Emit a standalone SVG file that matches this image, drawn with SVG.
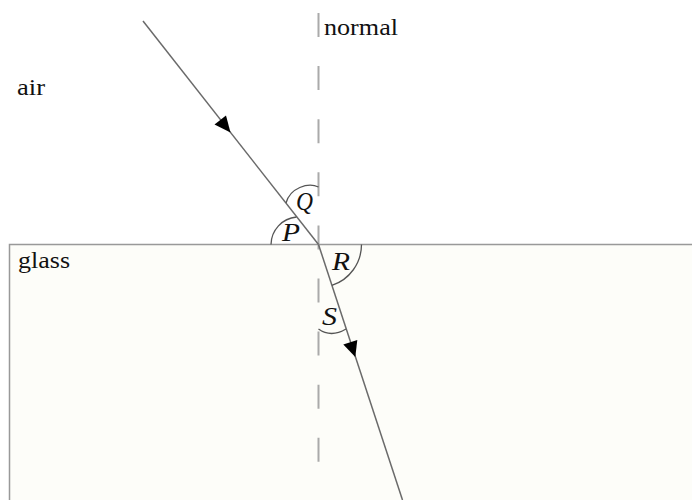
<svg xmlns="http://www.w3.org/2000/svg" width="692" height="500" viewBox="0 0 692 500">
  <style>
    .lbl { font-family: "Liberation Serif", "Times New Roman", serif; font-size: 24px; fill: #111111; }
    .ang { font-family: "Liberation Serif", "Times New Roman", serif; font-size: 26px; font-style: italic; fill: #111111; }
    .ray { stroke: #6a6a6a; stroke-width: 1.5; fill: none; }
    .arc { stroke: #555555; stroke-width: 1.3; fill: none; }
    .head { fill: #000000; stroke: none; }
    .normal { stroke: #aaaaaa; stroke-width: 2; stroke-dasharray: 24 29.1; fill: none; }
  </style>
  <rect x="0" y="0" width="692" height="500" fill="#ffffff"/>
  <g id="glass">
    <rect x="9.5" y="244.5" width="700" height="300" fill="#fdfdf9" stroke="#999999" stroke-width="1.5"/>
  </g>
  <g id="connectors">
    <line id="normal-line" class="normal" x1="318.5" y1="13" x2="318.5" y2="464"/>
    <line id="incident-ray" class="ray" x1="143" y1="21" x2="318.5" y2="244.5"/>
    <line id="refracted-ray" class="ray" x1="318.5" y1="244.5" x2="402.5" y2="500"/>
    <polygon class="head" points="230.5,132.5 226,115.5 214.5,124.5"/>
    <polygon class="head" points="355.3,357 357.3,340 343.3,344.6"/>
  </g>
  <g id="angles">
    <path id="arc-Q" class="arc" d="M286,203 C290,188 308,182 318.5,187"/>
    <path id="arc-P" class="arc" d="M271,244.5 A28,28 0 0 1 296.5,217"/>
    <path id="arc-R" class="arc" d="M361.5,244.5 A43,43 0 0 1 331.9,285.4"/>
    <path id="arc-S" class="arc" d="M318.5,329 Q331,338 346,329"/>
  </g>
  <g id="labels">
    <text class="lbl" x="324" y="35" textLength="74" lengthAdjust="spacingAndGlyphs">normal</text>
    <text class="lbl" x="17" y="95" textLength="28" lengthAdjust="spacingAndGlyphs">air</text>
    <text class="lbl" x="18" y="268" textLength="52" lengthAdjust="spacingAndGlyphs">glass</text>
    <text class="ang" x="296" y="210" textLength="17" lengthAdjust="spacingAndGlyphs">Q</text>
    <text class="ang" x="282" y="241" textLength="18" lengthAdjust="spacingAndGlyphs">P</text>
    <text class="ang" x="332" y="270" textLength="18" lengthAdjust="spacingAndGlyphs">R</text>
    <text class="ang" x="322" y="325" textLength="15" lengthAdjust="spacingAndGlyphs">S</text>
  </g>
</svg>
